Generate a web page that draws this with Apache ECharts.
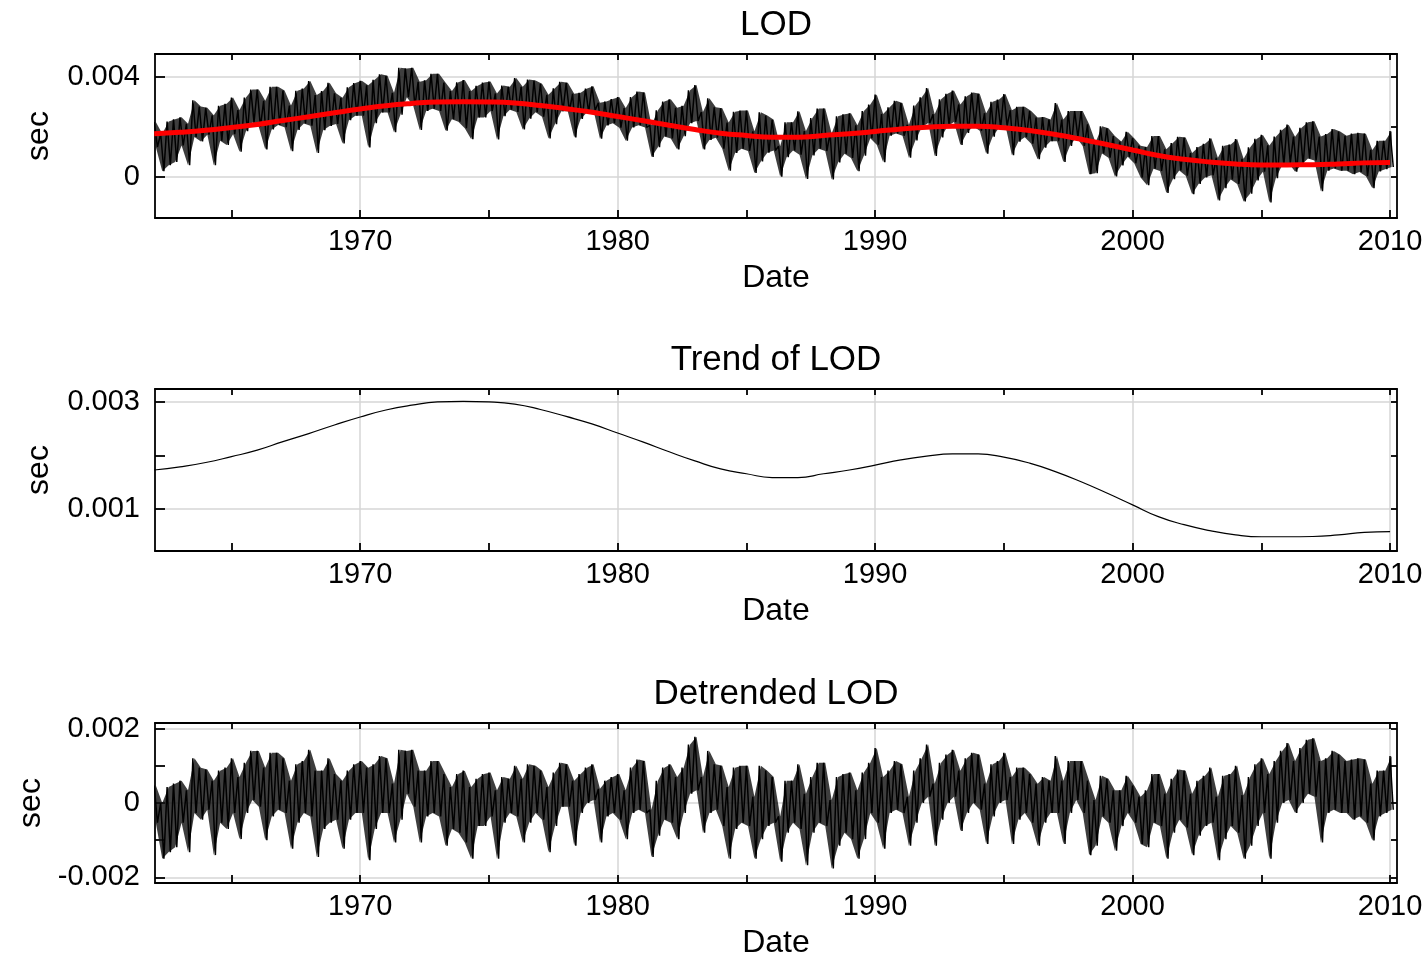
<!DOCTYPE html>
<html>
<head>
<meta charset="utf-8">
<title>LOD</title>
<script src="https://cdn.jsdelivr.net/npm/echarts@6/dist/echarts.min.js"></script>
<style>
  html, body { margin: 0; padding: 0; background: #fff; }
  #chart { width: 1427px; height: 960px; }
</style>
</head>
<body>
<div id="chart"></div>
<script>
// ---- data (values in ms, converted to sec below) ----
// yearly trend of LOD, 1962 .. 2010
var trendStart = 1962;
var trendMs = [1.73, 1.79, 1.87, 1.98, 2.10, 2.26, 2.41, 2.57, 2.72, 2.85,
  2.94, 3.00, 3.01, 3.00, 2.96, 2.86, 2.73, 2.59, 2.42, 2.25,
  2.07, 1.90, 1.75, 1.66, 1.59, 1.59, 1.66, 1.73, 1.82, 1.92,
  1.99, 2.03, 2.03, 1.97, 1.86, 1.70, 1.51, 1.30, 1.08, 0.86,
  0.71, 0.60, 0.52, 0.485, 0.485, 0.49, 0.52, 0.565, 0.58];

// detrended LOD: upper / lower envelope for each quarter, 1962.00 .. 2010.00
var detStart = 1962, detStep = 0.25;
var detHiMs = [
  0.47, 0.0, 0.43, 0.52,   0.6, 0.34, 1.2, 0.95,   0.9, 0.6, 0.87, 0.95,   1.2, 0.7, 1.08, 1.4,
  1.4, 0.95, 1.35, 1.35,   1.2, 0.6, 1.04, 1.13,   1.43, 0.87, 0.87, 1.2,  0.78, 0.6, 0.87, 1.04,
  1.13, 0.95, 1.04, 1.26,  1.2, 0.52, 1.43, 1.4,   1.43, 0.87, 0.87, 1.13, 1.13, 0.78, 0.43, 0.78,
  0.87, 0.43, 0.65, 0.78,  0.82, 0.34, 0.7, 0.65,  1.0, 0.65, 1.04, 1.0,   0.87, 0.43, 0.82, 1.08,
  1.04, 0.6, 0.78, 0.95,   1.04, 0.38, 0.6, 0.7,   0.78, 0.34, 0.95, 1.17, 1.13, -0.18, 0.6, 0.95,
  1.04, 0.7, 0.95, 1.57,   1.78, 0.7, 1.4, 1.04,   1.0, 0.43, 0.95, 1.0,   1.0, 0.17, 1.0, 0.87,
  0.7, -0.36, 0.6, 0.6,    1.04, 0.25, 0.7, 1.08,  1.08, 0.08, 0.7, 0.78,  0.82, 0.34, 0.82, 1.08,
  1.48, 0.7, 0.87, 1.13,   1.04, 0.17, 0.87, 1.2,  1.57, 0.52, 1.08, 1.3,  1.43, 0.87, 1.2, 1.35,
  1.3, 0.52, 1.04, 1.13,   1.35, 0.7, 0.95, 0.95,  0.78, 0.52, 0.7, 0.6,   1.26, 0.6, 1.13, 1.13,
  1.13, 0.6, 0.08, 0.73,   0.65, 0.34, 0.34, 0.73, 0.47, 0.17, 0.34, 0.78, 0.78, 0.25, 0.65, 0.9,
  0.87, 0.25, 0.6, 0.73,   0.95, 0.17, 0.73, 0.78, 1.0, 0.21, 0.7, 1.04,  1.2, 0.78, 1.13, 1.4,
  1.61, 1.13, 1.48, 1.7,   1.74, 1.13, 1.2, 1.4,   1.3, 1.13, 1.17, 1.2,   1.17, 0.52, 0.87, 0.87,
  1.26];
var detLoMs = [
  -0.53, -1.5, -1.32, -1.19,  -0.53, -1.32, -0.27, -0.45, -0.18, -1.4, -0.53, -0.7,  -0.27, -0.97, -0.27, 0.08,
  -0.1, -1.0, -0.36, -0.18,   -0.27, -1.23, -0.53, -0.27, -0.36, -1.45, -0.7, -0.53, -0.45, -1.23, -0.45, -0.27,
  -0.27, -1.54, -0.7, -0.27,  -0.27, -1.06, -0.45, 0.25,  -0.1, -1.06, -0.36, -0.27, -0.36, -1.15, -0.7, -0.8,
  -1.06, -1.5, -0.62, -0.62,  -0.36, -1.5, -0.53, -0.27,  -0.36, -1.06, -0.53, -0.27, -0.45, -1.32, -0.62, -0.1,
  -0.1, -1.15, -0.27, 0.0,    0.08, -1.06, -0.36, -0.27,  -0.45, -0.97, -0.27, -0.18, -0.27, -1.45, -0.88, -0.45,
  -0.53, -0.97, -0.27, 0.25,  0.34, -0.8, -0.27, -0.18,   -0.62, -1.5, -0.7, -0.53,  -0.62, -1.5, -0.97, -0.62,
  -0.53, -1.58, -0.8, -0.53,  -0.7, -1.67, -0.8, -0.53,   -0.62, -1.76, -1.15, -0.8, -0.97, -1.5, -0.97, -0.27,
  -0.53, -1.23, -0.27, -0.18, -0.27, -1.15, -0.53, 0.0,   0.17, -1.15, -0.45, 0.0,   0.17, -0.75, -0.27, 0.0,
  -0.18, -1.1, -0.36, 0.0,    0.08, -1.1, -0.45, -0.27,   -0.53, -1.15, -0.53, -0.27, -0.27, -1.1, -0.27, 0.08,
  -0.27, -1.4, -1.15, -0.36,  -0.53, -1.28, -0.62, -0.27, -0.53, -1.1, -1.19, -0.53, -0.62, -1.5, -0.8, -0.45,
  -0.66, -1.4, -0.88, -0.62,  -0.53, -1.54, -0.97, -0.62, -0.8, -1.5, -1.15, -0.62,  -0.27, -1.5, -0.53, 0.0,
  0.08, -0.27, 0.0, 0.25,     0.17, -1.06, -0.27, -0.18,  -0.27, -0.27, -0.45, -0.36, -0.53, -1.01, -0.36, -0.27,
  -0.18];

// axis ticks / labels
var xLabelYears = [1970, 1980, 1990, 2000, 2010];
var xTickYears = [1965, 1970, 1975, 1980, 1985, 1990, 1995, 2000, 2005, 2010];
var lodLabels = [0, 0.004], lodTicks = [0, 0.002, 0.004];
var trendLabels = [0.001, 0.003], trendTicks = [0.001, 0.002, 0.003];
var detLabels = [-0.002, 0, 0.002], detTicks = [-0.002, -0.001, 0, 0.001, 0.002];

// ---- build series points ----
var trendPts = [], detPts = [], lodPts = [];
var detBand = [], lodBand = [];   // [t, lo, hi] envelope, drawn behind the line
trendMs.forEach(function (v, i) { trendPts.push([trendStart + i, v / 1000]); });
detHiMs.forEach(function (hi, i) {
  var t = detStart + i * detStep;
  var k = Math.min(trendMs.length - 1, Math.round(t - trendStart));
  var lo = detLoMs[i];
  var tr = trendMs[k];
  detPts.push([t, hi / 1000], [t + detStep / 2, lo / 1000]);
  lodPts.push([t, (tr + hi) / 1000], [t + detStep / 2, (tr + lo) / 1000]);
  detBand.push([t + detStep / 4, lo / 1000, hi / 1000]);
  lodBand.push([t + detStep / 4, (tr + lo) / 1000, (tr + hi) / 1000]);
});

var FONT = 'Liberation Sans, Arial, sans-serif';
var X_MIN = 1962.03, X_MAX = 2010.27;
var panels = [
  { title: 'LOD', titleTop: 8, top: 54, height: 164, min: -0.00164, max: 0.00492,
    labels: lodLabels, ticks: lodTicks, leftTicks: lodLabels },
  { title: 'Trend of LOD', titleTop: 343, top: 389, height: 162, min: 0.000219, max: 0.003242,
    labels: trendLabels, ticks: trendTicks, leftTicks: trendTicks },
  { title: 'Detrended LOD', titleTop: 677, top: 723, height: 163, min: -0.00215, max: 0.00215,
    labels: detLabels, ticks: detTicks, leftTicks: detTicks }
];

function fmt(v) { return Math.abs(v) < 1e-9 ? '0' : String(+v.toFixed(6)); }
function fmtYear(v) { return String(Math.round(v)); }

var lineBlack = { color: '#000', width: 1.8 };
var title = [], grid = [], xAxis = [], yAxis = [];
panels.forEach(function (p, i) {
  title.push({
    text: p.title, left: 776, top: p.titleTop, textAlign: 'center', padding: 0,
    textStyle: { fontFamily: FONT, fontSize: 35, fontWeight: 'normal', color: '#000' }
  });
  grid.push({ left: 155, right: 30, top: p.top, height: p.height });
  // bottom axis with labels
  xAxis.push({
    gridIndex: i, type: 'value', position: 'bottom', min: X_MIN, max: X_MAX,
    name: 'Date', nameLocation: 'middle', nameGap: 44,
    nameTextStyle: { fontFamily: FONT, fontSize: 32, color: '#000' },
    axisLine: { onZero: false, lineStyle: lineBlack },
    axisTick: { inside: true, length: 8, customValues: xTickYears, lineStyle: lineBlack },
    axisLabel: { customValues: xLabelYears, formatter: fmtYear, margin: 9,
      fontFamily: FONT, fontSize: 29, color: '#000' },
    splitLine: { show: false }
  });
  // top edge of box
  xAxis.push({
    gridIndex: i, type: 'value', position: 'top', min: X_MIN, max: X_MAX,
    axisLine: { onZero: false, lineStyle: lineBlack },
    axisTick: { inside: true, length: 6, customValues: xTickYears, lineStyle: lineBlack },
    axisLabel: { show: false }, splitLine: { show: false }
  });
  // grid lines only
  xAxis.push({
    gridIndex: i, type: 'value', position: 'bottom', min: X_MIN, max: X_MAX,
    axisLine: { show: false, onZero: false }, axisLabel: { show: false },
    axisTick: { show: false, customValues: xLabelYears },
    splitLine: { show: true, lineStyle: { color: '#d6d6d6', width: 1.5 } }
  });
  yAxis.push({
    gridIndex: i, type: 'value', position: 'left', min: p.min, max: p.max,
    name: 'sec', nameLocation: 'middle', nameGap: 100,
    nameTextStyle: { fontFamily: FONT, fontSize: 32, color: '#000' },
    axisLine: { onZero: false, lineStyle: lineBlack },
    axisTick: { inside: true, length: 10, customValues: p.leftTicks, lineStyle: lineBlack },
    axisLabel: { customValues: p.labels, formatter: fmt, margin: 15, fontFamily: FONT, fontSize: 29, color: '#000' },
    splitLine: { show: false }
  });
  yAxis.push({
    gridIndex: i, type: 'value', position: 'right', min: p.min, max: p.max,
    axisLine: { onZero: false, lineStyle: lineBlack },
    axisTick: { inside: true, length: 6, customValues: p.ticks, lineStyle: lineBlack },
    axisLabel: { show: false }, splitLine: { show: false }
  });
  yAxis.push({
    gridIndex: i, type: 'value', position: 'left', min: p.min, max: p.max,
    axisLine: { show: false, onZero: false }, axisLabel: { show: false },
    axisTick: { show: false, customValues: p.labels },
    splitLine: { show: true, lineStyle: { color: '#d6d6d6', width: 1.5 } }
  });
});

function line(data, panel, color, width, z, smooth) {
  return {
    type: 'line', data: data, xAxisIndex: panel * 3, yAxisIndex: panel * 3,
    showSymbol: false, symbol: 'none', z: z, clip: true, smooth: !!smooth,
    lineStyle: { color: color, width: width }, itemStyle: { color: color }
  };
}

// envelope as a custom polygon: lo edge forward, hi edge back
function band(data, panel) {
  return {
    type: 'custom', data: data, xAxisIndex: panel * 3, yAxisIndex: panel * 3,
    z: 1, clip: true,
    renderItem: function (params, api) {
      if (params.dataIndex !== 0) return;
      var lower = [], upper = [];
      for (var j = 0; j < data.length; j++) {
        lower.push(api.coord([data[j][0], data[j][1]]));
        upper.push(api.coord([data[j][0], data[j][2]]));
      }
      var cs = params.coordSys;
      return {
        type: 'polygon',
        shape: { points: lower.concat(upper.reverse()) },
        style: { fill: '#141414', opacity: 0.82 },
        clipPath: { type: 'rect', shape: { x: cs.x, y: cs.y, width: cs.width, height: cs.height } }
      };
    }
  };
}

var series = [
  band(lodBand, 0),
  line(lodPts, 0, '#000', 1.5, 2),
  line(trendPts, 0, '#ff0000', 5, 3, true),
  line(trendPts, 1, '#000', 1.2, 2, true),
  band(detBand, 2),
  line(detPts, 2, '#000', 1.5, 2)
];

var chart = echarts.init(document.getElementById('chart'), null, { renderer: 'canvas' });
chart.setOption({
  animation: false,
  backgroundColor: '#fff',
  title: title,
  grid: grid,
  xAxis: xAxis,
  yAxis: yAxis,
  series: series
});
</script>
</body>
</html>
